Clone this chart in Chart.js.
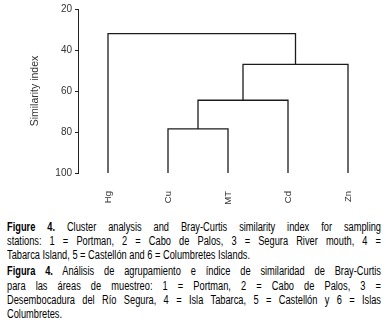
<!DOCTYPE html>
<html><head><meta charset="utf-8">
<script src="https://cdn.jsdelivr.net/npm/chart.js@4.4.1/dist/chart.umd.min.js"></script>
<style>
html,body{margin:0;padding:0;background:#fff;width:386px;height:323px;overflow:hidden;}
#wrap{position:absolute;left:0;top:0;width:386px;height:210px;}
#cap{position:absolute;left:7px;top:219.5px;width:451px;transform:scaleX(0.83);transform-origin:0 0;font-family:"Liberation Sans",Arial,sans-serif;font-size:12px;line-height:14.3px;color:#000;}
.j{text-align:justify;text-align-last:justify;}
.l{text-align:left;}
.p2{margin-top:2px;}
b{font-weight:bold;}
</style>
</head><body>
<div id="wrap"><canvas id="c" width="386" height="210"></canvas></div>
<div id="cap">
<div class="j"><b>Figure 4.</b> Cluster analysis and Bray-Curtis similarity index for sampling</div>
<div class="j">stations: 1 = Portman, 2 = Cabo de Palos, 3 = Segura River mouth, 4 =</div>
<div class="l"><span id="ref">Tabarca Island, 5 = Castellón and 6 = Columbretes Islands.</span></div>
<div class="j p2"><b>Figura 4.</b> Análisis de agrupamiento e índice de similaridad de Bray-Curtis</div>
<div class="j">para las áreas de muestreo: 1 = Portman, 2 = Cabo de Palos, 3 =</div>
<div class="j">Desembocadura del Río Segura, 4 = Isla Tabarca, 5 = Castellón y 6 = Islas</div>
<div class="l">Columbretes.</div>
</div>
<script>
const leaves = ['Hg','Cu','MT','Cd','Zn'];
const mergeLeft = [1, 5, 6, 0];
const mergeRight = [2, 3, 4, 7];
const mergeHeights = [78.5, 64.5, 47, 32];
const yTicks = [20, 40, 60, 80, 100];
const leafHeight = 100;

// fit caption horizontally (condensed look)
(function(){
  const cap = document.getElementById('cap');
  cap.style.transform = 'none';
  const w = document.getElementById('ref').getBoundingClientRect().width;
  const s = 243 / w;
  cap.style.width = (374 / s) + 'px';
  cap.style.transform = 'scaleX(' + s + ')';
})();

const nodeX = leaves.map((_, i) => i + 1);
const nodeH = leaves.map(() => leafHeight);
const datasets = mergeHeights.map((h, k) => {
  const a = mergeLeft[k], b = mergeRight[k];
  const d = [
    {x: nodeX[a], y: nodeH[a]}, {x: nodeX[a], y: h},
    {x: nodeX[b], y: h}, {x: nodeX[b], y: nodeH[b]}
  ];
  nodeX.push((nodeX[a] + nodeX[b]) / 2);
  nodeH.push(h);
  return {data: d, showLine: true, borderColor: '#1c1c1c', borderWidth: 1.3,
          pointRadius: 0, fill: false, tension: 0};
});

const FONT = '"Liberation Sans", Arial, sans-serif';
new Chart(document.getElementById('c'), {
  type: 'scatter',
  data: {datasets},
  options: {
    responsive: false, animation: false, devicePixelRatio: 1,
    layout: {padding: {top: 6, right: 8, left: 0, bottom: 0}},
    plugins: {legend: {display: false}, tooltip: {enabled: false}},
    scales: {
      x: {
        type: 'linear', min: 0.5, max: 5.5,
        grid: {display: false}, border: {display: false},
        afterBuildTicks: s => { s.ticks = leaves.map((_, i) => ({value: i + 1})); },
        ticks: {autoSkip: false, minRotation: 90, maxRotation: 90, padding: 10,
                color: '#333', font: {family: FONT, size: 9.5},
                callback: (v, i) => leaves[i]},
        afterFit: s => { s.height = 37; }
      },
      y: {
        type: 'linear', reverse: true, min: 20, max: 100,
        afterBuildTicks: s => { s.ticks = yTicks.map(v => ({value: v})); },
        grid: {drawOnChartArea: false, drawTicks: true, tickLength: 3, color: '#222', lineWidth: 1},
        border: {display: true, color: '#222', width: 1},
        ticks: {color: '#333', padding: 3, font: {family: FONT, size: 10}},
        title: {display: true, text: 'Similarity index', color: '#333',
                font: {family: FONT, size: 10.5}, padding: {top: 29, bottom: 0}},
        afterFit: s => { s.width = 78; }
      }
    }
  }
});
</script>
</body></html>
